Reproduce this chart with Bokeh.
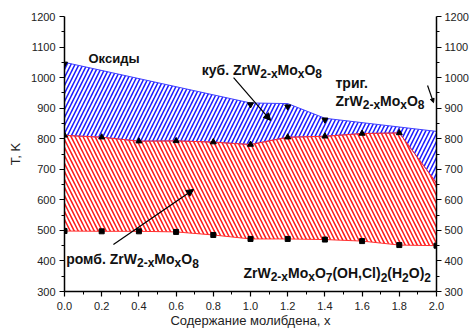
from bokeh.plotting import figure
from bokeh.models import (LinearAxis, FixedTicker, Label, Arrow, NormalHead,
                          CustomJSTickFormatter, Range1d)
from bokeh.embed import file_html
from bokeh.resources import INLINE

# ---------------- data ----------------
# upper boundary (oxides / cubic)
x_up = [0.0, 1.0, 1.2, 1.4, 2.0]
y_up = [1050, 917, 915, 867, 824]
# upper markers
x_up_m = [0.0, 1.0, 1.2, 1.4]
y_up_m = [1045, 912, 905, 862]
# middle boundary (cubic / orthorhombic)
x_mid = [0.0, 0.2, 0.4, 0.6, 0.8, 1.0, 1.2, 1.4, 1.6, 1.8, 2.0]
y_mid = [811, 805, 792, 793, 789, 781, 805, 808, 817, 819, 655]
x_mid_m = [0.0, 0.2, 0.4, 0.6, 0.8, 1.0, 1.2, 1.4, 1.6, 1.8]
y_mid_m = [811, 805, 792, 793, 789, 781, 805, 808, 817, 819]
# lower boundary (orthorhombic / hydrate)
x_low = [0.0, 0.2, 0.4, 0.6, 0.8, 1.0, 1.2, 1.4, 1.6, 1.8, 2.0]
y_low = [498, 497, 497, 495, 485, 472, 472, 470, 465, 452, 450]

x_ticks = [0.0, 0.2, 0.4, 0.6, 0.8, 1.0, 1.2, 1.4, 1.6, 1.8, 2.0]
y_ticks = [300, 400, 500, 600, 700, 800, 900, 1000, 1100, 1200]

FONT = "Liberation Sans"

p = figure(width=472, height=333, output_backend="svg", toolbar_location=None,
           x_range=Range1d(0, 2), y_range=Range1d(300, 1200),
           min_border_left=64, min_border_right=36, min_border_top=16,
           min_border_bottom=42, x_axis_type=None, y_axis_type=None)
p.outline_line_color = None
p.xgrid.visible = False
p.ygrid.visible = False
p.background_fill_color = "white"

# ---------------- regions ----------------
blue_xs = list(x_up) + list(reversed(x_mid))
blue_ys = list(y_up) + list(reversed(y_mid))
p.patch(blue_xs, blue_ys, fill_color="white", fill_alpha=0.0,
        hatch_pattern="/", hatch_color="#1818ff",
        hatch_scale=8, hatch_weight=1.5,
        line_color="#4040ff", line_width=1.0)

red_xs = list(x_mid) + list(reversed(x_low))
red_ys = list(y_mid) + list(reversed(y_low))
p.patch(red_xs, red_ys, fill_color="white", fill_alpha=0.0,
        hatch_pattern="\\", hatch_color="#ff1818",
        hatch_scale=8, hatch_weight=1.5,
        line_color="#ff3030", line_width=1.0)

# markers
p.scatter(x_up_m, y_up_m, marker="inverted_triangle", size=6, color="black")
p.scatter(x_mid_m, y_mid_m, marker="triangle", size=6, color="black")
p.scatter(x_low, y_low, marker="square", size=5, color="black")

# ---------------- axes ----------------
fmt = CustomJSTickFormatter(code="return tick.toFixed(1);")

def style_axis(ax):
    ax.axis_line_width = 1.5
    ax.axis_line_color = "black"
    ax.major_tick_line_color = "black"
    ax.minor_tick_line_color = "black"
    ax.major_tick_line_width = 1.2
    ax.minor_tick_line_width = 1.0
    ax.major_tick_in = 0
    ax.major_tick_out = 5
    ax.minor_tick_in = 0
    ax.minor_tick_out = 3
    ax.major_label_text_font = FONT
    ax.major_label_text_font_size = "11px"
    ax.major_label_text_color = "#222222"
    ax.axis_label_text_font = FONT
    ax.axis_label_text_font_size = "13px"
    ax.axis_label_text_font_style = "normal"
    ax.axis_label_text_color = "#222222"

y_minor = [v + 50 for v in y_ticks[:-1]]
x_minor = [round(v + 0.1, 1) for v in x_ticks[:-1]]

yl = LinearAxis(ticker=FixedTicker(ticks=y_ticks, minor_ticks=y_minor),
                axis_label="T, K")
style_axis(yl)
yl.major_label_standoff = 4
yl.axis_label_standoff = 5
p.add_layout(yl, "left")

yr = LinearAxis(ticker=FixedTicker(ticks=y_ticks, minor_ticks=y_minor))
style_axis(yr)
yr.major_label_standoff = 3
p.add_layout(yr, "right")

xb = LinearAxis(ticker=FixedTicker(ticks=x_ticks, minor_ticks=x_minor),
                formatter=fmt, axis_label="Содержание молибдена, х")
style_axis(xb)
xb.major_label_standoff = 5
xb.axis_label_standoff = 0
p.add_layout(xb, "below")

# ---------------- annotations ----------------
W = {"Z": 611, "r": 389, "W": 944, "M": 833, "o": 611, "O": 778, "x": 556,
     "-": 333, "(": 333, ")": 333, ",": 278, "H": 722, "C": 722, "l": 278,
     ".": 278, " ": 278}
for d in "0123456789":
    W[d] = 556

def tw(s, fs):
    return sum(W.get(c, 600) for c in s) * fs / 1000.0

MAIN = 14
SUB = 12
DROP = 4

def formula(x, y, parts):
    off = 0.0
    for txt, sub in parts:
        fs = SUB if sub else MAIN
        p.add_layout(Label(x=x, y=y, x_offset=off, y_offset=(-DROP if sub else 0),
                           text=txt, text_font=FONT, text_font_size=f"{fs}px",
                           text_font_style="bold", text_color="#111111",
                           text_baseline="alphabetic", text_align="left"))
        off += tw(txt, fs)

def plain(x, y, txt, align="left", xoff=0, fs=MAIN):
    p.add_layout(Label(x=x, y=y, x_offset=xoff, text=txt, text_font=FONT,
                       text_font_size=f"{fs}px", text_font_style="bold",
                       text_color="#111111", text_baseline="alphabetic",
                       text_align=align))

ZMO8 = [("ZrW", False), ("2-x", True), ("Mo", False), ("x", True),
        ("O", False), ("8", True)]
HYD = [("ZrW", False), ("2-x", True), ("Mo", False), ("x", True),
       ("O", False), ("7", True), ("(OH,Cl)", False), ("2", True),
       ("(H", False), ("2", True), ("O)", False), ("2", True)]

plain(0.129, 1062, "Оксиды", fs=13)

plain(0.906, 1026, "куб.", align="right", xoff=-4)
formula(0.906, 1026, ZMO8)

plain(1.457, 981, "триг.")
formula(1.457, 925, ZMO8)

plain(0.2436, 405, "ромб.", align="right", xoff=-4)
formula(0.2436, 405, ZMO8)

formula(0.962, 359, HYD)

# arrows
p.add_layout(Arrow(end=NormalHead(size=7, fill_color="black", line_color="black"),
                   x_start=0.909, y_start=1000, x_end=1.108, y_end=860,
                   line_width=1.2, line_color="black"))
p.add_layout(Arrow(end=NormalHead(size=7, fill_color="black", line_color="black"),
                   x_start=0.263, y_start=454, x_end=0.694, y_end=634,
                   line_width=1.2, line_color="black"))
p.add_layout(Arrow(end=NormalHead(size=4, fill_color="black", line_color="black"),
                   x_start=1.952, y_start=974, x_end=1.984, y_end=918,
                   line_width=1.2, line_color="black"))

open("out.html", "w").write(file_html(p, INLINE))
